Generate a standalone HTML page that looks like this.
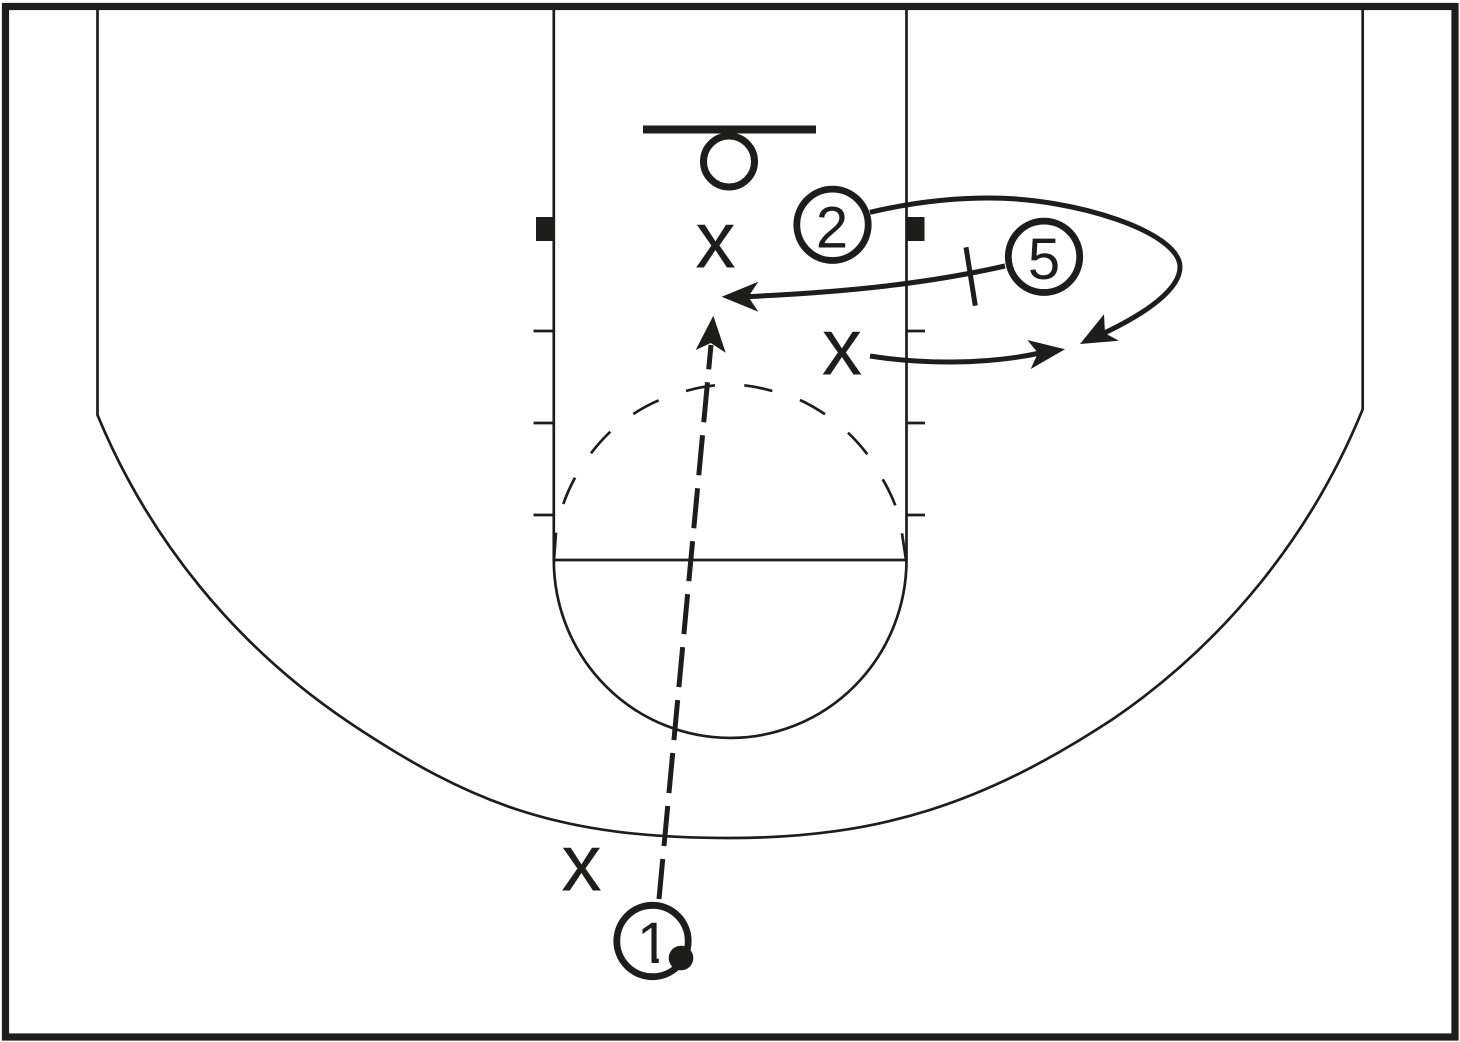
<!DOCTYPE html>
<html><head><meta charset="utf-8"><style>
html,body{margin:0;padding:0;background:#fff}
svg{display:block}
text{font-family:"Liberation Sans",sans-serif;fill:#1d1d1b}
</style></head><body>
<svg width="1460" height="1042" viewBox="0 0 1460 1042" xmlns="http://www.w3.org/2000/svg">
<rect width="1460" height="1042" fill="#fff"/>
<rect x="5.500" y="6.500" width="1449.500" height="1030.500" fill="none" stroke="#1d1d1b" stroke-width="7.200"/>
<g fill="none" stroke="#1d1d1b" stroke-width="2.700">
<path d="M97.500 8V415A685 685 0 0 0 347 721C472 805 560 838 730 838C880 838 985 803 1113 719A690 690 0 0 0 1362.700 409.300V8"/>
<path d="M553.800 8V560M906.500 8V560M553.800 560H906.500"/>
<path d="M553.800 560A176.350 178 0 0 0 906.500 560"/>
<path d="M533.500 331H554M533.500 423H554M533.500 515H554M906 331H925M906 423H925M906 515H925"/>
<path d="M563.300 504A176 176 0 0 1 575 477.700M591 453.300A176 176 0 0 1 610.300 431.700M633.300 414A176 176 0 0 1 658.700 400.300M686 391A176 176 0 0 1 715 385.300M744.300 385.300A176 176 0 0 1 772.300 391M800 400A176 176 0 0 1 825 414.300M848 432.700A176 176 0 0 1 867.300 454.300M882.700 479.300A176 176 0 0 1 895.300 505.300M556 532.700L554 560M902 533.300L906 560"/>
</g>
<rect x="536" y="217" width="18" height="24" fill="#1d1d1b"/>
<rect x="906.500" y="217" width="18" height="24" fill="#1d1d1b"/>
<path d="M643 129.500H816" stroke="#1d1d1b" stroke-width="8" fill="none"/>
<circle cx="729" cy="161.500" r="25.500" fill="none" stroke="#1d1d1b" stroke-width="7"/>
<g fill="none" stroke="#1d1d1b" stroke-width="5">
<path d="M659 899L711 345" stroke-dasharray="40.200 13"/>
<path d="M1005 266C930 283 850 292 745 296.700"/>
<path d="M966 247.300L975.300 305.700"/>
<path d="M870 212.300C905 204 945 198 990 198C1075 198 1180 232 1180 267C1180 288 1150 312 1098 336"/>
<path d="M870 356C920 364 985 365 1040 353"/>
</g>
<g fill="#1d1d1b">
<path d="M713.300 315.700L725.700 352.700L710.700 343L695.700 350Z"/>
<path d="M721.700 296.700L758.300 281.700L748.300 296.700L758.300 311.700Z"/>
<path d="M1080 344L1104 314.300L1105 333.300L1119 340.700Z"/>
<path d="M1065 349.300L1027.300 340L1038 353L1030.700 369Z"/>
</g>
<g fill="#fff" stroke="#1d1d1b" stroke-width="6.800">
<circle cx="832.500" cy="224.800" r="35.700"/>
<circle cx="1044" cy="256.800" r="35.700"/>
<circle cx="652.500" cy="941" r="35.700"/>
</g>
<text x="832" y="247.500" font-size="58" text-anchor="middle">2</text>
<text x="1044" y="279" font-size="58" text-anchor="middle">5</text>
<text x="653" y="963" font-size="58" text-anchor="middle">1</text>
<rect x="636" y="957" width="15.500" height="8" fill="#fff"/>
<rect x="658.800" y="957" width="10" height="8" fill="#fff"/>
<circle cx="681" cy="958" r="12.300" fill="#1d1d1b"/>
<text x="715.500" y="267.500" font-size="81" text-anchor="middle">x</text>
<text x="842" y="374.300" font-size="81" text-anchor="middle">x</text>
<text x="581.500" y="890.700" font-size="81" text-anchor="middle">x</text>
</svg>
</body></html>
